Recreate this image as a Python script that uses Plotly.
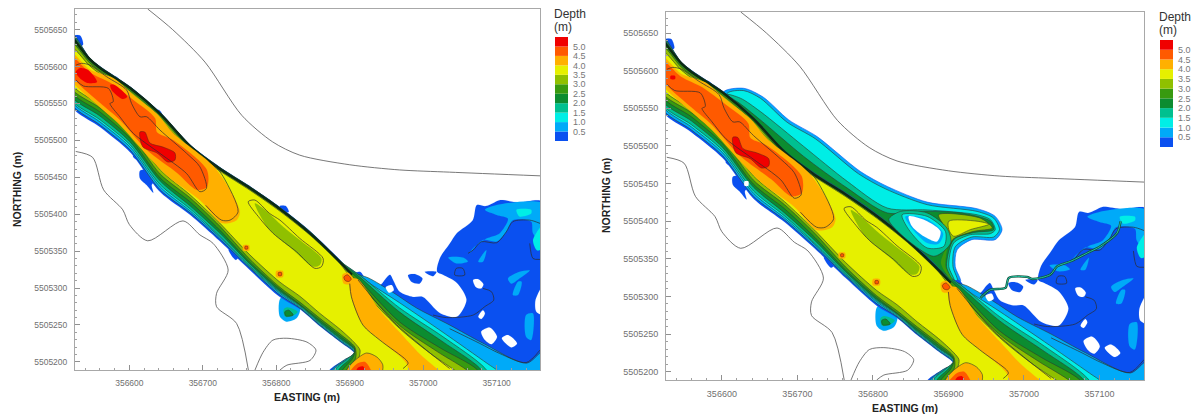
import plotly.graph_objects as go

# ---- axes / legend data ----
E0 = 356000
N0 = 5505000
E_RANGE = [356526, 357159]
N_RANGE = [5505189, 5505678]
E_TICKS = [356600, 356700, 356800, 356900, 357000, 357100]
N_TICKS = [5505200, 5505250, 5505300, 5505350, 5505400, 5505450, 5505500, 5505550, 5505600, 5505650]
LEVEL_LABELS = ["0.5", "1.0", "1.5", "2.0", "2.5", "3.0", "3.5", "4.0", "4.5", "5.0"]
LEVEL_TOPS = [0.5, 1.0, 1.5, 2.0, 2.5, 3.0, 3.5, 4.0, 4.5, 5.0, 5.5]
LEVEL_COLORS = ["#0a50f0", "#00aaf8", "#00eee6", "#00c090", "#0c8c30", "#389a10",
                "#90c000", "#e6f000", "#ffb000", "#ff5a00", "#f00000"]
BLUE, SKY, CYAN, TEAL, DARK, GREEN, YG, YELLOW, ORANGE, ORED, RED = LEVEL_COLORS

# ---- channel cross-sections: northing (offset from N0) read at fixed eastings (offset from E0) ----
NORTH_E = [520, 546, 560, 601, 642, 683, 723, 764, 805, 846, 887]
SOUTH_E = [520, 560, 601, 642, 683, 723, 764, 805, 832, 859, 887, 907]

N_BLUE = [648, 612, 600.5, 573, 538, 494, 464, 438, 409.7, 377, 337.9]
N_SKY = [647, 611.5, 600, 572.5, 537.5, 493.5, 463.5, 437.5, 409, 376.5, 337]
N_CYAN = [646, 611, 599.5, 572, 537, 493, 463, 437, 408.5, 376, 336.5]
N_TEAL = [645, 610.5, 599, 571.5, 536.5, 492.5, 462.5, 436.3, 408, 375, 336]
N_DARK = [643, 610, 598, 571, 536, 492, 461.5, 435.5, 407, 374, 335]
N_GREEN = [640, 608, 597, 570, 534.4, 490, 461, 435, 406.5, 373.5, 334.5]
N_YG = [634, 605, 594, 567, 532, 488, 460, 434, 405.5, 373, 334]
N_YELLOW = [627, 601, 590, 563, 528, 486, 458.6, 432.6, 404, 371.6, 332.5]

S_BLUE = [548, 518, 484, 430, 398.9, 363.6, 324.4, 287.8, 271.5, 248.5, 226.8, 210.5]
S_SKY = [551, 521, 487, 433, 401.6, 366.4, 327, 290.5, 272.9, 249.8, 228, 211.9]
S_CYAN = [555, 525, 491, 437, 404.3, 369, 328.4, 293, 274, 251, 229.5, 213]
S_TEAL = [557, 528, 494, 440, 407, 370.4, 329.8, 294.5, 275.6, 252.5, 231, 214.6]
S_DARK = [561.5, 533, 498, 445, 411, 374.5, 332.5, 296, 277, 254, 232, 216]
S_GREEN = [567, 538.5, 503, 449, 416.5, 378.5, 335, 298.6, 278, 256.6, 235, 217.3]
S_YG = [572, 544, 509, 454.4, 422, 384, 339, 301, 281, 259.3, 237.6, 220]
S_YELLOW = [577.7, 548, 514, 460, 426, 388, 345, 308, 289, 266, 244, 225.4]

# south-east reach of each depth line, then the turn at the bottom edge
SE_BLUE = [(903, 320), (914, 322), (923, 311), (941, 304), (950, 314), (955, 318), (959, 311), (968, 295), (986, 288), (999.5, 288),
           (1023, 266), (1046, 261), (1059, 284), (1046, 307), (1027, 318), (1019, 322), (1023, 341), (1036, 360), (1046, 374.5),
           (1067.5, 392), (1073, 412.4), (1085, 411), (1095, 415), (1104, 419), (1130, 416), (1165, 416), (1165, 168)]
SE_SKY = [(907, 320), (925, 314), (959, 294), (991, 273), (1036, 250), (1081, 225.5), (1141, 198.3), (1165, 216), (1165, 168)]
SE_CYAN = [(910, 320), (925, 308), (968, 280), (1027, 240), (1087, 198), (1104, 186), (1118, 168)]
SE_TEAL = [(911, 319), (918, 314), (968, 273), (1027, 234), (1084, 191.5), (1097, 168)]
SE_DARK = [(910, 318), (968, 267.4), (1027, 227), (1077, 191.5), (1091, 168)]
SE_GREEN = [(907, 317), (968, 254), (1023, 219), (1073, 190), (1087, 168)]
SE_YG = [(904, 315), (968, 249), (1019, 214), (1063, 186), (1077, 168)]
SE_YELLOW = [(903, 312), (968, 245), (1009, 212), (1054, 181), (1070, 168)]

TURN_BLUE = [(871, 168), (871, 187), (891, 202)]
TURN_SKY = [(875, 168), (875, 188), (893, 203)]
TURN_CYAN = [(878, 168), (878, 189), (895, 203)]
TURN_TEAL = [(881, 168), (881, 190), (897, 204)]
TURN_DARK = [(885, 168), (885, 189), (900, 204)]
TURN_GREEN = [(889, 168), (889, 187), (904, 205)]
TURN_YG = [(893, 168), (893, 185), (908, 205)]
TURN_YELLOW = [(896, 168), (896, 185), (912, 205), (914, 216)]

# ---- deep pockets ----
ORANGE_NW = [(520, 620), (546, 596), (578, 584.5), (605, 562), (637.6, 536), (659.4, 510), (705.6, 473.4), (719, 460),
             (741, 426), (750.5, 403), (746, 392), (726, 388), (696, 419), (655, 449), (624, 480), (587, 521), (560, 545), (520, 584)]
ORED_NW = [(520, 615), (546, 592), (574, 578), (605, 555), (635, 530), (637.6, 511), (659.4, 500.5), (705.6, 460),
           (705.6, 437), (692, 433), (665, 456), (624, 487), (587, 528), (560, 551), (520, 590)]
RED_MID = [(614.4, 511.3), (621, 511.3), (628, 496.4), (645.7, 491), (662, 483), (662, 473.4), (652.5, 470.7), (637.6, 483), (618.5, 491)]
RED_NW_L = [(527, 592.6), (533, 598), (544, 595.3), (556, 579), (544, 577.7), (533, 584)]
RED_NW2_L = [(574, 575), (580, 575), (597, 559), (591, 556), (576, 568)]
RED_NW_R = [(532, 593), (538, 593), (538, 589), (532, 589)]
ORANGE_SE = [(900, 312), (911, 312), (941, 270), (968, 240), (995, 211), (1025, 185), (1040, 168), (985, 168), (977, 198),
             (941, 229.5), (918, 249.8), (902, 288)]
ORANGE_TIP = [(890, 318), (897, 321), (905, 313), (904, 306), (892, 306)]
ORED_TIP = [(892, 315), (897, 318), (902, 312), (899, 309), (894, 310)]
ORANGE_LOW = [(896, 175), (896, 189), (907, 202), (923, 212), (937, 206.5), (945, 196), (944, 182), (944, 175)]
ORED_LOW = [(897, 175), (897, 182), (911, 198), (921, 200), (930, 186), (930, 175)]
RED_LOW = [(907, 175), (907, 182), (911, 192), (918, 194), (923, 182), (923, 175)]
HALO_A = [(755, 358), (763, 358), (763, 351), (755, 351)]
DOT_A = [(757.5, 356.5), (761, 356.5), (761, 353), (757.5, 353)]
HALO_B = [(800, 323), (809, 323), (809, 315), (800, 315)]
DOT_B = [(803, 321), (807, 321), (807, 317), (803, 317)]
YG_MID = [(770.8, 414.7), (782, 408), (809.4, 383), (832, 365), (861.5, 340), (859, 331), (850, 329), (823, 351.5), (789, 381)]

# ---- fringe blobs along the banks ----
BUMP_1 = [(526, 642), (533, 642), (537, 630), (530, 626)]
BUMP_2 = [(576, 586), (583, 586), (588, 579), (580, 578)]
BUMP_3 = [(634, 541), (641, 541), (645, 534), (637, 534)]
BUMP_4 = [(756, 439), (763, 439), (767, 432), (758, 432)]
BUMP_5 = [(805, 411), (813, 411), (817, 403), (807, 404)]
FRINGE_1 = [(537, 539), (555, 523), (569, 518.5), (565, 530), (545, 545)]
FRINGE_2 = [(605, 478), (623.5, 469), (620, 480), (614.5, 488)]
FRINGE_3 = [(646, 433), (669, 415), (664, 428), (655, 440)]
FRINGE_4 = [(735, 352), (745, 338), (750, 345), (742, 355)]
BUMP_SKY = [(805, 285), (818, 294), (832, 280), (832, 268), (827.5, 259), (814, 254.4), (805, 261)]
BUMP_TEAL = [(810, 271), (815, 274), (829, 268), (822, 262), (812, 261)]
BUMP_GREEN = [(811.6, 268), (817, 270), (823, 263.4), (813, 262)]

# ---- shallow shelf details ----
SKY_SHELF_A = [(1084, 406), (1100, 412.4), (1165, 414), (1165, 358), (1149.5, 374), (1147, 390), (1122, 392), (1113, 376),
               (1100, 363), (1081.4, 365), (1063, 347), (1068, 354), (1086, 367), (1104, 374), (1115.4, 394), (1100, 399)]
SKY_STREAK_1 = [(1034, 341.5), (1054, 341.5), (1061, 336), (1045, 333.4)]
SKY_STREAK_2 = [(1115.4, 313), (1131, 322), (1145, 324), (1131, 313), (1120, 306)]
SKY_STREAK_3 = [(1122, 290.5), (1129, 308.5), (1134, 308.5), (1129, 290.5)]
SKY_STREAK_4 = [(1140, 263.4), (1149.5, 265.6), (1147, 229.5), (1140, 234)]
SKY_STREAK_5 = [(1075, 335.6), (1086, 351.4), (1081.4, 335.6)]
CYAN_PATCH_A = [(1127, 406), (1147, 406), (1147, 401), (1131, 397)]
CYAN_PATCH_B = [(1149.5, 365), (1165, 388), (1165, 356), (1155, 351)]
WHITE_HOLE_1 = [(1068, 311), (1075, 312), (1082, 305), (1079, 299.5), (1072, 301)]
WHITE_HOLE_2 = [(1075, 261), (1081.4, 270), (1084, 265.6), (1079, 258)]
WHITE_HOLE_3 = [(1079, 241), (1090.5, 246.6), (1100.5, 234), (1093, 224), (1084, 229.5)]
WHITE_HOLE_4 = [(1107, 232), (1115.4, 236.3), (1127.7, 225), (1120, 219.6)]
WHITE_HOLE_5 = [(1153, 284), (1165, 306.3), (1165, 263.4), (1154, 268)]
WHITE_HOLE_6 = [(949, 301), (957, 304), (960, 297), (953.5, 293.6)]
BLUE_ISLAND_1 = [(979.4, 317.6), (988.5, 319), (999, 313), (995, 306), (984, 308.5)]
BLUE_ISLAND_2 = [(1002, 322), (1018, 322), (1013.4, 316)]
BLUE_PATCH_SW = [(614.5, 459), (623.5, 459.8), (628, 450.8), (635, 446), (630.4, 439.5), (632.6, 429), (623.5, 439.5), (614.5, 448.5)]
WHITE_SW_R = [(630, 453), (635, 453), (635, 447), (630, 447)]

# ---- contour lines ----
LINE_45 = [(527.4, 581.8), (537.4, 573.7), (571.4, 570.5), (578, 552.4), (573.7, 550), (587, 532), (605.4, 509.5), (641.7, 482.4),
           (678, 455), (696, 430.5), (705, 435), (696, 464.3), (678, 482.4), (641.7, 514), (623.5, 532), (614.5, 532), (603, 550),
           (596.3, 568.2), (569, 586.3), (546.4, 602), (535, 604.4), (527.4, 602)]
LINE_40_NW = [(713, 470), (727.7, 451), (748, 403.4), (737, 392), (725.5, 392), (704, 412)]
LINE_YG = [(761.8, 417), (770.8, 419.2), (791, 401), (805, 392), (832, 367.3), (863.8, 340), (861.5, 329), (852.5, 326.7), (827.5, 349.2),
           (795.8, 374), (777.6, 394.4), (761.8, 417)]
LINE_40_A = [(900, 306), (902.3, 288), (918, 249.8), (941, 229.5), (977, 202.4), (979.4, 198), (972.6, 191)]
LINE_40_B = [(911.4, 310.8), (959, 255), (1004.3, 216), (1036, 191)]
LINE_S1 = [(1013.4, 263.4), (1031.5, 260), (1068, 263.4), (1084, 275), (1096, 283.7), (1093, 295), (1081.4, 299.5)]
LINE_S2 = [(1036, 245), (1077, 225), (1104, 211.4), (1140, 199), (1159, 216)]
LINE_S3 = [(1061, 347), (1068, 351.4), (1079, 362.7), (1100, 361.4), (1113, 376), (1122, 390), (1145, 392), (1159, 387.6)]
LINE_S4 = [(1145, 360.5), (1149.5, 340), (1159, 338.8)]
LINE_S5 = [(1045, 326.6), (1054, 326.6), (1056.5, 317.6), (1043, 317.6), (1045, 326.6)]
COAST_N = [(625, 678), (659, 650), (703, 606), (753, 534), (795, 498), (832, 480), (900, 467), (968, 460), (1036, 457), (1159, 452)]
COAST_SW = [(527, 485), (550, 477), (565, 433), (591, 406), (600, 386), (625, 364), (673, 391), (696, 372), (714, 360.5),
            (734.5, 324.4), (718.7, 292.8), (718.7, 274.7), (746, 252), (762, 189)]
COAST_ISLE = [(771, 189), (782, 213), (795.4, 229.5), (814.5, 232), (841.7, 226.8), (854, 216), (846, 202), (814.5, 195.6), (805, 189)]

# ---- right-hand panel: new harbour works ----
H_CLOSE = [(880, 335), (819, 385), (713, 455), (651, 505), (606, 545)]
H_SKY = [(602.5, 572), (629, 576.6), (655, 564.7), (688.6, 534.6), (726, 512.5), (783.5, 466), (819, 446.2), (871.8, 425.4),
         (938, 416.6), (962, 406.4), (971, 388.8), (962, 375.5), (931, 375.5), (911.5, 362), (909, 340), (916, 320)]
H_CYAN = [(607, 570), (629, 573.5), (651, 563.4), (686.4, 531.5), (724, 509.4), (781, 463), (816.6, 443), (871.8, 422),
          (938, 413), (960, 404), (967.6, 388.8), (960, 379), (931, 379), (909, 366), (906, 340), (912, 320)]
H_TEAL = [(604.7, 568), (624.6, 563.4), (651, 545.7), (708.4, 499.3), (766, 453), (819, 417.5), (871.8, 415), (938, 408.6),
          (955.7, 402), (962, 388.8), (955.7, 383.5), (929, 382), (907, 371), (900.5, 340), (908, 320)]
H_DARK = [(602.5, 568), (620, 559), (651, 534.6), (708.4, 486), (766, 444), (819, 411), (863, 413), (916, 411), (955.7, 400),
          (960, 388.8), (933.6, 385), (907, 375.5), (897.4, 340), (905, 320)]
H_YG = [(887, 408.6), (942.4, 404), (958, 391), (933.6, 386.5), (907, 376.8), (899, 366.7), (894, 375.5), (894, 393)]
H_YELLOW = [(900.5, 400), (938, 400), (953.5, 396), (929, 388.8), (907, 380), (900.5, 388.8)]
P_TEAL = [(821, 402), (836.5, 413), (871.8, 411), (898, 391), (903, 371), (880.6, 353.4)]
P_CYAN = [(838.7, 408.6), (871.8, 406.4), (896, 386.5), (894, 366.7), (871.8, 364.5), (847.5, 388.8)]
P_SKY = [(843, 406.4), (871, 403), (893, 384), (887, 370), (871.8, 371), (849.7, 393)]
P_WHITE = [(847.5, 406.4), (871.8, 400), (889.5, 386.5), (885, 373), (867.4, 380), (852, 393)]
H_STEM = [(890, 345), (898, 365), (896, 340), (905, 322), (900, 326)]
RIVER = [(942.4, 298), (955.6, 309), (975.5, 311.4), (980, 324.7), (1004, 326), (1011, 323.3), (1035, 329), (1044, 340),
         (1062, 346.8), (1084, 357.8), (1101.3, 366.7), (1123.4, 384.3), (1128, 399.8)]

LEVELS = [
    (BLUE, N_BLUE, SE_BLUE, TURN_BLUE, S_BLUE),
    (SKY, N_SKY, SE_SKY, TURN_SKY, S_SKY),
    (CYAN, N_CYAN, SE_CYAN, TURN_CYAN, S_CYAN),
    (TEAL, N_TEAL, SE_TEAL, TURN_TEAL, S_TEAL),
    (DARK, N_DARK, SE_DARK, TURN_DARK, S_DARK),
    (GREEN, N_GREEN, SE_GREEN, TURN_GREEN, S_GREEN),
    (YG, N_YG, SE_YG, TURN_YG, S_YG),
    (YELLOW, N_YELLOW, SE_YELLOW, TURN_YELLOW, S_YELLOW),
]

W, H = 1196, 417
EDGE = "#2b3b2b"
fig = go.Figure()


def poly(pts, color, ax, line=None):
    xs = [p[0] + E0 for p in pts] + [pts[0][0] + E0]
    ys = [p[1] + N0 for p in pts] + [pts[0][1] + N0]
    fig.add_trace(go.Scatter(x=xs, y=ys, mode="lines", fill="toself", fillcolor=color,
                             line=dict(color=line or color, width=0.6 if line else 0.1, shape="spline", smoothing=0.8),
                             hoverinfo="skip", showlegend=False, xaxis="x" + ax, yaxis="y" + ax))


def path(pts, color, ax, width=0.7):
    fig.add_trace(go.Scatter(x=[p[0] + E0 for p in pts], y=[p[1] + N0 for p in pts], mode="lines",
                             line=dict(color=color, width=width, shape="spline", smoothing=0.8),
                             hoverinfo="skip", showlegend=False, xaxis="x" + ax, yaxis="y" + ax))


def harbour(ax):
    poly(H_SKY + H_CLOSE, SKY, ax, line=BLUE)
    poly(H_CYAN + H_CLOSE, CYAN, ax, line=EDGE)
    poly(H_TEAL + H_CLOSE, TEAL, ax, line=EDGE)
    poly(H_DARK + H_CLOSE, DARK, ax, line=EDGE)


def base(ax, with_harbour):
    poly(BLUE_PATCH_SW, BLUE, ax)
    for p in (BUMP_1, BUMP_2, BUMP_3, BUMP_4, BUMP_5, FRINGE_1, FRINGE_2, FRINGE_3, FRINGE_4):
        poly(p, BLUE, ax)
    poly(BUMP_SKY, SKY, ax)
    poly(BUMP_TEAL, TEAL, ax)
    poly(BUMP_GREEN, DARK, ax, line=EDGE)
    if with_harbour:
        harbour(ax)
    for i, (col, nn, se, turn, ss) in enumerate(LEVELS):
        pts = list(zip(NORTH_E, nn)) + se + turn + list(zip(SOUTH_E, ss))[::-1]
        poly(pts, col, ax, line=None if i == 0 else EDGE)
    path(list(zip(NORTH_E, N_DARK)) + [(903, 318)], "#0c2a14", ax, 2.4)
    for p in (SKY_SHELF_A, SKY_STREAK_1, SKY_STREAK_2, SKY_STREAK_3, SKY_STREAK_4, SKY_STREAK_5):
        poly(p, SKY, ax)
    for p in (CYAN_PATCH_A, CYAN_PATCH_B):
        poly(p, CYAN, ax)
    for p in (WHITE_HOLE_1, WHITE_HOLE_2, WHITE_HOLE_3, WHITE_HOLE_4, WHITE_HOLE_5, WHITE_HOLE_6):
        poly(p, "#ffffff", ax)
    for p in (BLUE_ISLAND_1, BLUE_ISLAND_2):
        poly(p, BLUE, ax)
    poly(ORANGE_NW, ORANGE, ax)
    poly(ORED_NW, ORED, ax)
    poly(RED_MID, RED, ax, line="#702010")
    poly(ORANGE_SE, ORANGE, ax)
    poly(ORANGE_TIP, ORANGE, ax)
    poly(ORED_TIP, ORED, ax, line="#702010")
    poly(ORANGE_LOW, ORANGE, ax, line=EDGE)
    poly(ORED_LOW, ORED, ax)
    poly(RED_LOW, RED, ax)
    poly(HALO_A, ORANGE, ax)
    poly(DOT_A, ORED, ax, line="#702010")
    poly(HALO_B, ORANGE, ax)
    poly(DOT_B, ORED, ax, line="#702010")
    poly(YG_MID, YG, ax)
    for p in (LINE_45, LINE_40_NW, LINE_YG, LINE_40_A, LINE_40_B, LINE_S1, LINE_S2, LINE_S3, LINE_S4, LINE_S5):
        path(p, "#2c2c2c", ax)
    for p in (COAST_N, COAST_SW, COAST_ISLE):
        path(p, "#555555", ax, 0.8)


base("", False)
poly(RED_NW_L, RED, "")
poly(RED_NW2_L, RED, "")

base("2", True)
poly(RED_NW_R, RED, "2")
poly(WHITE_SW_R, "#ffffff", "2")
poly(H_YG, YG, "2", line=EDGE)
poly(H_YELLOW, YELLOW, "2", line=EDGE)
poly(H_STEM, GREEN, "2")
poly(P_TEAL, TEAL, "2", line=EDGE)
poly(P_CYAN, CYAN, "2", line=EDGE)
poly(P_SKY, SKY, "2")
poly(P_WHITE, "#ffffff", "2")
path(RIVER, "#14503c", "2", 2.4)
path(RIVER, "#20c0a0", "2", 1.0)


def legend_bars(ax):
    fig.add_trace(go.Bar(x=[1] * len(LEVEL_TOPS), y=[0.5] * len(LEVEL_TOPS), base=[t - 0.5 for t in LEVEL_TOPS],
                         orientation="v", width=1, marker=dict(color=LEVEL_COLORS, line=dict(width=0)),
                         hoverinfo="skip", showlegend=False, xaxis="x" + ax, yaxis="y" + ax))


legend_bars("3")
legend_bars("4")


def map_axes(l, r, t, b, font_size, x_anchor, y_anchor):
    common = dict(showgrid=False, zeroline=False, showline=True, linecolor="#a8a8a8", linewidth=1, mirror=True,
                  ticks="inside", ticklen=5, tickcolor="#909090", tickwidth=1, tickformat="d", ticklabelstandoff=5,
                  tickfont=dict(family="Liberation Sans", size=font_size, color="#707070"))
    x = dict(common, domain=[l / W, r / W], range=E_RANGE, anchor=y_anchor, tickvals=E_TICKS,
             minor=dict(dtick=20, ticks="inside", ticklen=2, tickcolor="#a0a0a0"))
    y = dict(common, domain=[1 - b / H, 1 - t / H], range=N_RANGE, anchor=x_anchor, tickvals=N_TICKS,
             minor=dict(dtick=10, ticks="inside", ticklen=2, tickcolor="#a0a0a0"))
    return x, y


def bar_axes(l, r, t, b, x_anchor, y_anchor):
    x = dict(domain=[l / W, r / W], range=[0.5, 1.5], visible=False, anchor=y_anchor)
    y = dict(domain=[1 - b / H, 1 - t / H], range=[0, 5.5], anchor=x_anchor, side="right", tickvals=[float(s) for s in LEVEL_LABELS],
             ticktext=LEVEL_LABELS, showgrid=False, zeroline=False, showline=False, ticks="", ticklabelstandoff=4,
             tickfont=dict(family="Liberation Sans", size=9, color="#777777"))
    return x, y


x1, y1 = map_axes(75, 540, 9, 370, 8.5, "x", "y")
x2, y2 = map_axes(666, 1144, 12, 380, 9, "x2", "y2")
x3, y3 = bar_axes(555, 568, 37, 141, "x3", "y3")
x4, y4 = bar_axes(1160, 1173, 40, 147, "x4", "y4")


def text(s, px, py, size=12, bold=False, color="#333333", angle=0, anchor="center"):
    return dict(text="<b>%s</b>" % s if bold else s, x=px / W, y=1 - py / H, xref="paper", yref="paper", showarrow=False,
                textangle=angle, xanchor=anchor, yanchor="middle",
                font=dict(family="Liberation Sans", size=size, color=color))


annotations = [
    text("Depth", 552, 14, anchor="left"), text("(m)", 552, 27, anchor="left"),
    text("Depth", 1157, 17, anchor="left"), text("(m)", 1157, 30, anchor="left"),
    text("EASTING (m)", 307, 397, 10.5, True, "#222222"),
    text("EASTING (m)", 905, 408, 10.5, True, "#222222"),
    text("NORTHING (m)", 17, 190, 10.5, True, "#222222", -90),
    text("NORTHING (m)", 606, 196, 10.5, True, "#222222", -90),
]

fig.update_layout(width=W, height=H, margin=dict(l=0, r=0, t=0, b=0), paper_bgcolor="white", plot_bgcolor="white",
                  showlegend=False, barmode="overlay", annotations=annotations,
                  xaxis=x1, yaxis=y1, xaxis2=x2, yaxis2=y2, xaxis3=x3, yaxis3=y3, xaxis4=x4, yaxis4=y4)

fig.write_html("out.html", config=dict(displayModeBar=False),
               post_script="document.body.style.margin='0';")
